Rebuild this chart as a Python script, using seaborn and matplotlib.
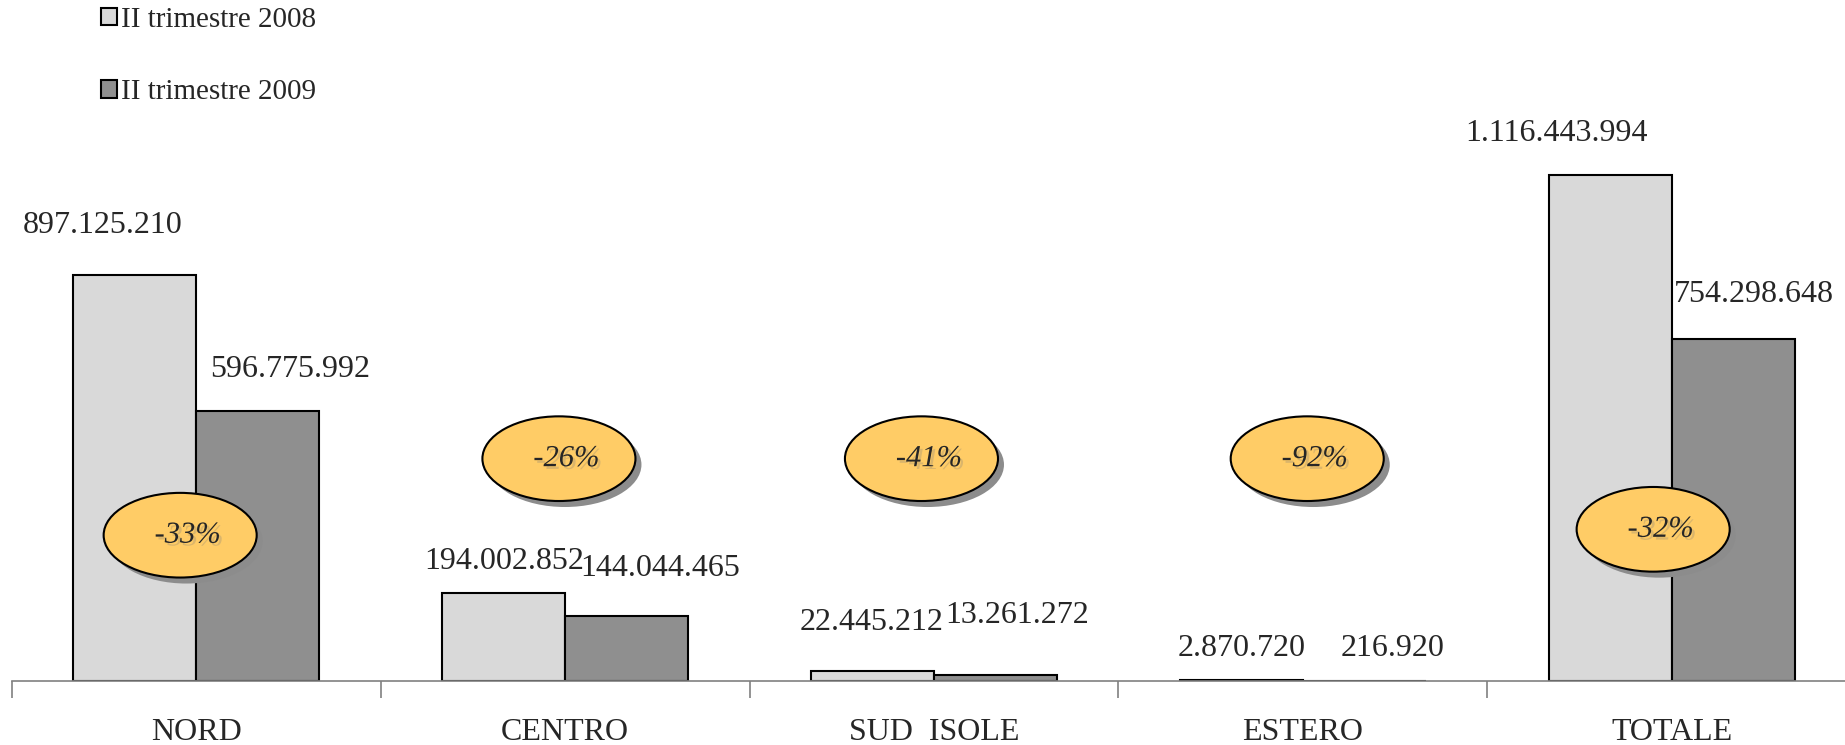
import matplotlib
matplotlib.use("Agg")
import matplotlib.pyplot as plt
import matplotlib.patheffects as pe
from matplotlib.patches import Ellipse, Patch
from matplotlib.transforms import offset_copy
import seaborn as sns
import pandas as pd

areas = ['NORD', 'CENTRO', 'SUD  ISOLE', 'ESTERO', 'TOTALE']
periods = ['II trimestre 2008', 'II trimestre 2009']
v2008 = [897125210, 194002852, 22445212, 2870720, 1116443994]
v2009 = [596775992, 144044465, 13261272, 216920, 754298648]

# label offsets (pixels) and bubble placement, tuned by eye
off2008 = [(-32, 49), (0, 32), (-1, 48), (0, 31), (-54, 42)]
off2009 = [(32, 41), (34, 47), (22, 59), (28, 32), (21, 45)]
bubble_x = [-0.044, 0.983, 1.966, 3.012, 3.95]
bubble_y = [322e6, 491e6, 491e6, 491e6, 335e6]

df = pd.DataFrame({
    'area': areas * 2,
    'periodo': [periods[0]] * 5 + [periods[1]] * 5,
    'valore': v2008 + v2009,
})

sns.set_style('white')
plt.rcParams['font.family'] = ['Liberation Serif', 'DejaVu Serif']

fig = plt.figure(figsize=(18.45, 7.45), dpi=100)
ax = fig.add_axes([12 / 1845, 64 / 745, 1844 / 1845, 681 / 745])

colors = ['#D9D9D9', '#8F8F8F']
sns.barplot(data=df, x='area', y='valore', hue='periodo', palette=colors,
            width=2 / 3, edgecolor='black', linewidth=1.5, ax=ax, legend=False)

ax.set_xlim(-0.5, 4.5)
ax.set_ylim(0, 1504e6)
ax.set_xlabel('')
ax.set_ylabel('')
ax.set_yticks([])
for s in ['top', 'right', 'left']:
    ax.spines[s].set_visible(False)
ax.spines['bottom'].set_color('#808080')
ax.spines['bottom'].set_linewidth(1.2)

ax.set_xticks([i - 0.5 for i in range(6)])
ax.set_xticklabels([])
ax.tick_params(axis='x', which='major', direction='out', length=12,
               color='#808080', width=1.2, bottom=True)
ax.set_xticks(range(5), minor=True)
ax.set_xticklabels(areas, minor=True, fontsize=23)
ax.tick_params(axis='x', which='minor', length=0, pad=27)

def fmt(v):
    return f"{v:,}".replace(",", ".")

for i in range(5):
    for vals, offs, dx in [(v2008, off2008, -1 / 6), (v2009, off2009, 1 / 6)]:
        ax.annotate(fmt(vals[i]), (i + dx, vals[i]), xytext=offs[i],
                    textcoords='offset pixels', ha='center', va='center',
                    fontsize=23)

ew, eh = 0.415, 187e6
shadow_tr = offset_copy(ax.transData, fig=fig, x=6, y=-6, units='dots')
for i in range(5):
    pct = round((v2009[i] / v2008[i] - 1) * 100)
    ax.add_patch(Ellipse((bubble_x[i], bubble_y[i]), ew, eh,
                         transform=shadow_tr, facecolor='#8C8C8C',
                         edgecolor='none', zorder=4))
    ax.add_patch(Ellipse((bubble_x[i], bubble_y[i]), ew, eh,
                         facecolor='#FFCC66', edgecolor='black',
                         linewidth=1.5, zorder=5))
    ax.text(bubble_x[i] + 0.02, bubble_y[i], f"{pct}%", ha='center',
            va='center', fontsize=22, style='italic', zorder=6,
            path_effects=[pe.SimplePatchShadow(offset=(2, -2), shadow_rgbFace='#B8A070', alpha=0.5),
                          pe.Normal()])

handles = [Patch(facecolor=c, edgecolor='black', linewidth=1.5) for c in colors]
fig.legend(handles, periods, loc='upper left', bbox_to_anchor=(92 / 1845, 1 + 2 / 745),
           frameon=False, fontsize=21, handlelength=0.55, handleheight=0.55,
           handletextpad=0.15, labelspacing=1.6, borderaxespad=0, borderpad=0.3)

fig.savefig('out.png', dpi=100)
